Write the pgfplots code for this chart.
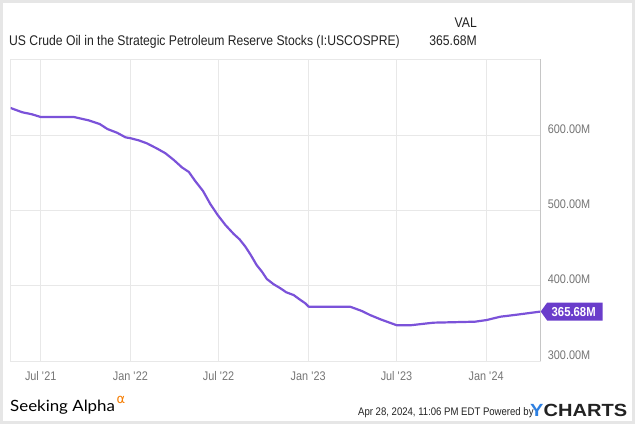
\documentclass[border=0pt]{standalone}
\usepackage{pgfplots}
\pgfplotsset{compat=1.18}
\usetikzlibrary{calc}
\usepackage{graphicx}
\usepackage{fontspec}
\setmainfont{Liberation Sans}[FakeStretch=0.87]
\newfontfamily\salogo{Lato}[FakeStretch=1.09]
\newfontfamily\symfont{DejaVu Sans}

\definecolor{framegray}{HTML}{E6E6E6}
\definecolor{gridgray}{HTML}{E8E8E8}
\definecolor{rightaxis}{HTML}{C6C6C6}
\definecolor{tickgray}{HTML}{757575}
\definecolor{sprline}{HTML}{7B52D9}
\definecolor{tagfill}{HTML}{6A3DCB}
\definecolor{textdark}{HTML}{222222}
\definecolor{saorange}{HTML}{F57C00}
\definecolor{ycblue}{HTML}{2D7FE0}

\begin{document}
\begin{tikzpicture}[x=1pt,y=1pt]
\useasboundingbox (0,0) rectangle (635,-424);
\draw[framegray, line width=2.6pt] (1.3,-1.3) rectangle (633.7,-422.7);

% header
\node[anchor=base west, inner sep=0, text=textdark, font=\fontsize{14}{16}\selectfont]
  at (9,-45) {US Crude Oil in the Strategic Petroleum Reserve Stocks (I:USCOSPRE)};
\node[anchor=base east, inner sep=0, text=textdark, font=\fontsize{14}{16}\selectfont]
  at (477,-27) {VAL};
\node[anchor=base east, inner sep=0, text=textdark, font=\fontsize{14}{16}\selectfont]
  at (477,-45) {365.68M};

\begin{axis}[
    at={(10.5pt,-361pt)}, anchor=south west,
    scale only axis,
    width=530.2pt, height=302pt,
    xmin=-62, xmax=1026,
    ymin=300, ymax=701,
    xtick={0,184,365,549,730,914},
    xticklabels={Jul \textquotesingle21, Jan \textquotesingle22, Jul \textquotesingle22,
                 Jan \textquotesingle23, Jul \textquotesingle23, Jan \textquotesingle24},
    ytick={300,400,500,600},
    yticklabels={300.00M,400.00M,500.00M,600.00M},
    yticklabel pos=right,
    major tick length=0pt,
    xmajorgrids, ymajorgrids,
    grid style={gridgray, line width=1pt},
    axis line style={gridgray, line width=1pt},
    xticklabel style={anchor=base, yshift=-19pt, inner sep=0pt, text=tickgray,
                      font=\fontsize{12.5}{14}\selectfont},
    yticklabel style={anchor=base west, xshift=7pt, yshift=2pt, inner sep=0pt, text=tickgray,
                      font=\fontsize{12.5}{14}\selectfont},
    after end axis/.code={
        \draw[rightaxis, line width=1pt] (rel axis cs:1,0) -- (rel axis cs:1,1);
        \coordinate (tip) at (axis cs:1026,365.68);
    },
]
\addplot[color=sprline, line width=2.2pt, line join=round] coordinates {
    (-62,636) (-38,630.3) (-18,627.6) (0,624) (68,624) (98,619.6) (121,614.7)
    (137,608) (157,603) (174,597) (185,595.7) (201,593) (218,589) (239,582)
    (256,575.8) (273,567) (290,557) (304,551) (317,539) (333,525.8) (348,508.5)
    (363,494) (379,480.6) (396,468.7) (408,461.6) (420,451.8) (431,440.8)
    (443,427.5) (454,418.6) (464,408.9) (478,401.9) (492,396.5) (504,391.2)
    (519,387.6) (533,381) (543,376.6) (550,372.1) (635,372.1) (659,366.4)
    (676,361) (697,355.4) (731,347.4) (758,347.4) (806,350.9) (840,351.4)
    (891,352.2) (915,354.4) (943,358.8) (977,361.5) (1026,365.68)
};
\end{axis}

% last value tag
\fill[tagfill] (tip) -- ++(6.5,9) -- ++(55.3,0) -- ++(0,-18) -- ++(-55.3,0) -- cycle;
\node[text=white, font=\fontsize{13}{14}\selectfont\bfseries, inner sep=0]
  at ($(tip)+(33,0)$) {365.68M};

% footer
\node[anchor=base west, inner sep=0, text=black, font=\salogo\fontsize{15.5}{18}\selectfont]
  at (10,-411) {Seeking Alpha};
\node[anchor=base west, inner sep=0, text=saorange, font=\symfont\fontsize{13}{14}\selectfont]
  at (116.5,-403.5) {α};
\node[anchor=base west, inner sep=0, text=textdark, font=\fontsize{11}{13}\selectfont]
  at (358,-415) {Apr 28, 2024, 11:06 PM EDT Powered by};
\node[anchor=base west, inner sep=0] at (530,-416.5)
  {\resizebox{97pt}{12.3pt}{\bfseries\textcolor{ycblue}{Y}\textcolor{textdark}{CHARTS}}};
\end{tikzpicture}
\end{document}
